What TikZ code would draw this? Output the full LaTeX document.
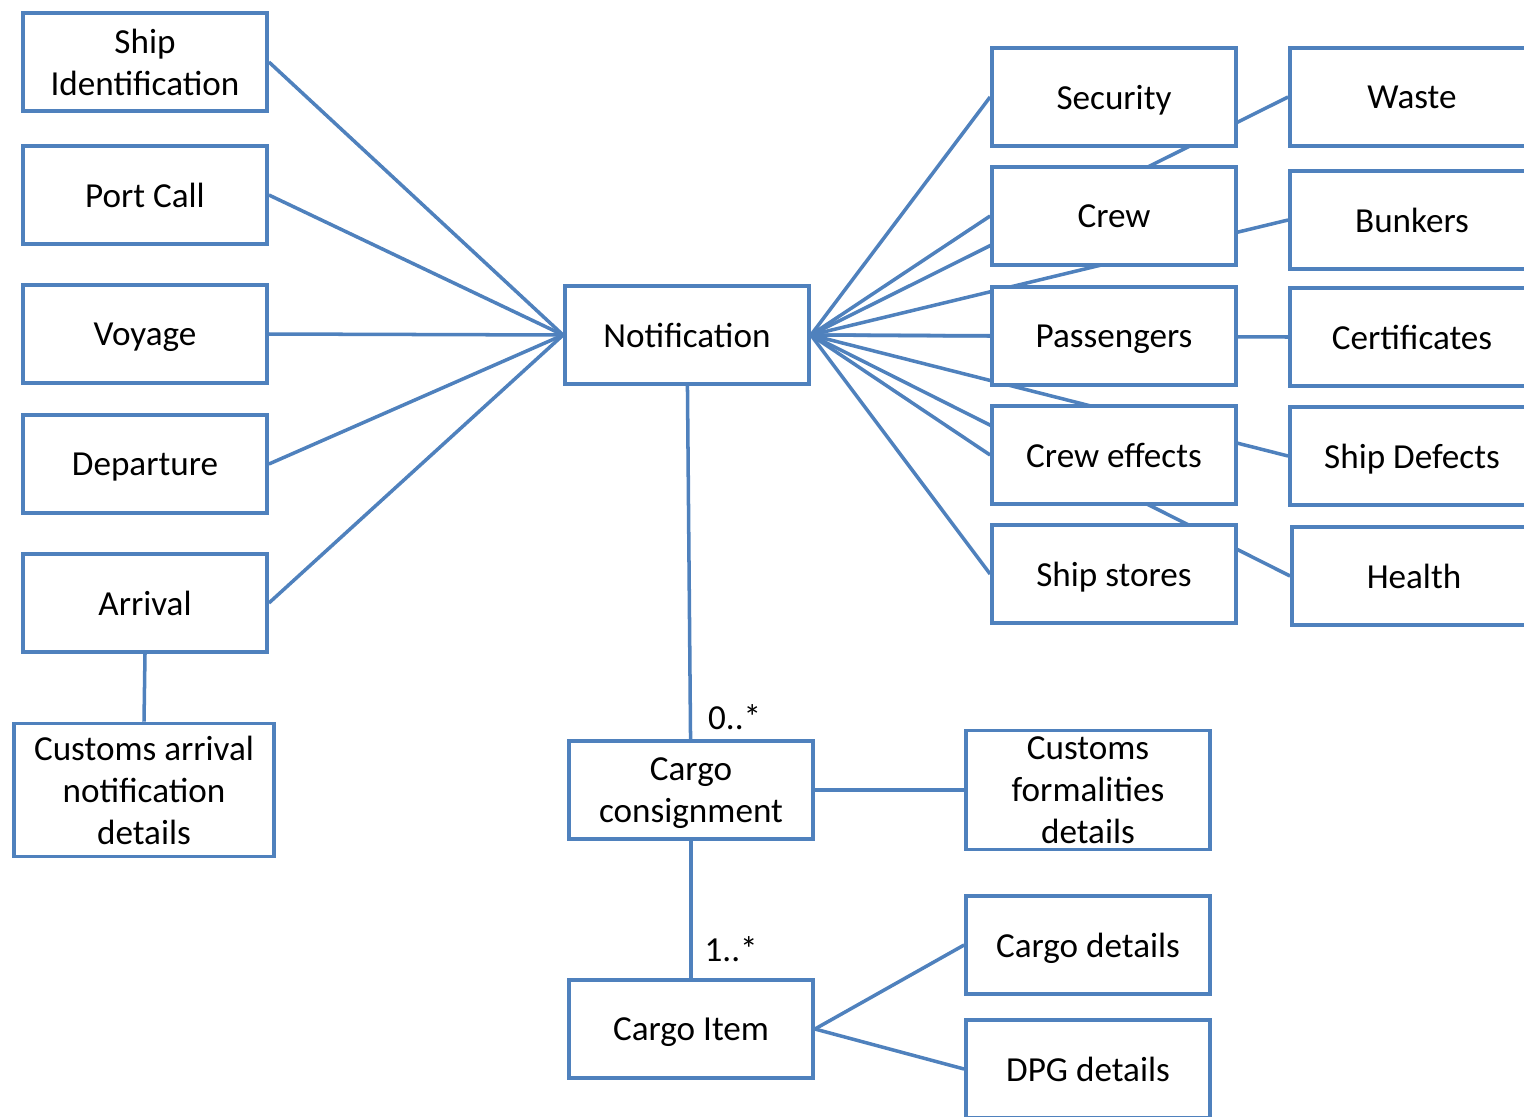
\documentclass[tikz,border=0pt]{standalone}
\usepackage{fontspec}
\setmainfont{Carlito}
\usetikzlibrary{backgrounds}
\definecolor{boxblue}{RGB}{79,129,189}

\begin{document}
\begin{tikzpicture}[x=0.02cm, y=-0.02cm,
    box/.style={draw=boxblue, line width=2.2pt, fill=white, minimum width=4.88cm, minimum height=1.96cm, align=center, inner sep=1pt, text depth=0pt, font=\fontsize{20}{24}\selectfont},
    link/.style={draw=boxblue, line width=2pt},
    mult/.style={font=\fontsize{20}{24}\selectfont}]
			\useasboundingbox (0,0) rectangle (1524,1116);
			% left column
			\node (shipid) at (145,62) [box] {Ship\\Identification};
			\node (portcall) at (145,195) [box] {Port Call};
			\node (voyage) at (145,334) [box] {Voyage};
			\node (departure) at (145,464) [box] {Departure};
			\node (arrival) at (145,603) [box] {Arrival};
			\node (custarr) at (144,790) [box, minimum width=5.2cm, minimum height=2.66cm] {Customs arrival\\notification\\details};
			% centre
			\node (notif) at (687,335) [box] {Notification};
			\node (cargocons) at (691,790) [box] {Cargo\\consignment};
			\node (cargoitem) at (691,1029) [box] {Cargo Item};
			\node (custform) at (1088,790) [box, minimum height=2.38cm] {Customs\\formalities\\details};
			\node (cargodet) at (1088,945) [box] {Cargo details};
			\node (dpgdet) at (1088,1069) [box] {DPG details};
			% right, first column
			\node (security) at (1114,97) [box] {Security};
			\node (crew) at (1114,216) [box] {Crew};
			\node (passengers) at (1114,336) [box] {Passengers};
			\node (creweff) at (1114,455) [box] {Crew effects};
			\node (stores) at (1114,574) [box] {Ship stores};
			% right, second column
			\node (waste) at (1412,97) [box] {Waste};
			\node (bunkers) at (1412,220) [box] {Bunkers};
			\node (certif) at (1412,337) [box] {Certificates};
			\node (defects) at (1412,456) [box] {Ship Defects};
			\node (health) at (1414,576) [box] {Health};

			\begin{scope}[on background layer]
			\foreach \n in {shipid, portcall, voyage, departure, arrival}
				\draw[link] (\n.east) -- (notif.west);
			\foreach \n in {security, crew, passengers, creweff, stores, waste, bunkers, certif, defects, health}
				\draw[link] (notif.east) -- (\n.west);
			\draw[link] (arrival.south) -- (custarr.north);
			\draw[link] (notif) -- (cargocons) node[pos=1, anchor=south west, mult, xshift=0.2cm, yshift=0.04cm] (many0) {0..*};
			\draw[link] (cargocons) -- (cargoitem) node[pos=1, anchor=south west, mult, xshift=0.12cm, yshift=0.18cm] (many1) {1..*};
			\draw[link] (cargocons.east) -- (custform.west);
			\draw[link] (cargoitem.east) -- (cargodet.west);
			\draw[link] (cargoitem.east) -- (dpgdet.west);
			\end{scope}
		\end{tikzpicture}
\end{document}
